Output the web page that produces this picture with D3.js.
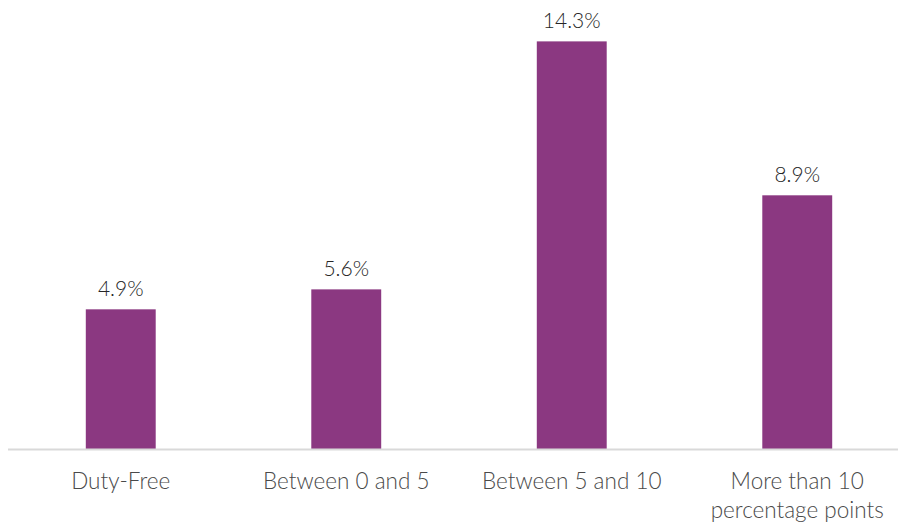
<!DOCTYPE html>
<html>
<head>
<meta charset="utf-8">
<script src="https://cdn.jsdelivr.net/npm/d3@7"></script>
<style>
  html, body { margin: 0; padding: 0; background: #ffffff; }
  svg { display: block; }
  text { font-family: Lato, "Open Sans", sans-serif; font-weight: 300; fill: #404040; }
</style>
</head>
<body>
<svg id="chart" width="898" height="524"></svg>
<script>
// Share of imports by tariff band
const categories = ["Duty-Free", "Between 0 and 5", "Between 5 and 10", "More than 10 percentage points"];
const values = [4.9, 5.6, 14.3, 8.9];
const valueLabels = ["4.9%", "5.6%", "14.3%", "8.9%"];

const svg = d3.select("#chart");
const width = 898, height = 524;
const baseY = 449;

const x = d3.scaleBand()
  .domain(categories)
  .range([8, 910])
  .paddingInner(0.69)
  .paddingOuter(0.345);

const y = d3.scaleLinear()
  .domain([0, 15.05])
  .range([baseY, 20]);

// Bars
svg.append("g")
  .selectAll("rect")
  .data(values)
  .join("rect")
  .attr("x", (d, i) => x(categories[i]))
  .attr("width", x.bandwidth())
  .attr("y", d => y(d))
  .attr("height", d => y(0) - y(d))
  .attr("fill", "#8B3881");

// Baseline axis
const axis = svg.append("g")
  .attr("transform", `translate(0,${baseY})`)
  .call(d3.axisBottom(x).tickSize(0).tickFormat(""));
axis.select(".domain")
  .attr("d", `M8,0.5H${width}`)
  .attr("stroke", "#d9d9d9")
  .attr("stroke-width", 2);

// Value labels above bars
svg.append("g")
  .selectAll("text")
  .data(values)
  .join("text")
  .attr("x", (d, i) => x(categories[i]) + x.bandwidth() / 2)
  .attr("y", d => y(d) - 13)
  .attr("text-anchor", "middle")
  .style("font-size", "21px")
  .style("fill", "#262626")
  .text((d, i) => valueLabels[i]);

// Category labels, wrapped where they are long
const catLines = [["Duty-Free"], ["Between 0 and 5"], ["Between 5 and 10"], ["More than 10", "percentage points"]];
const catG = svg.append("g");
categories.forEach((c, i) => {
  const t = catG.append("text")
    .attr("x", x(c) + x.bandwidth() / 2)
    .attr("y", 489)
    .attr("text-anchor", "middle")
    .style("font-size", "22.5px")
    .style("fill", "#4a4a4a");
  catLines[i].forEach((line, j) => {
    t.append("tspan")
      .attr("x", x(c) + x.bandwidth() / 2)
      .attr("dy", j === 0 ? 0 : 29)
      .text(line);
  });
});
</script>
</body>
</html>
